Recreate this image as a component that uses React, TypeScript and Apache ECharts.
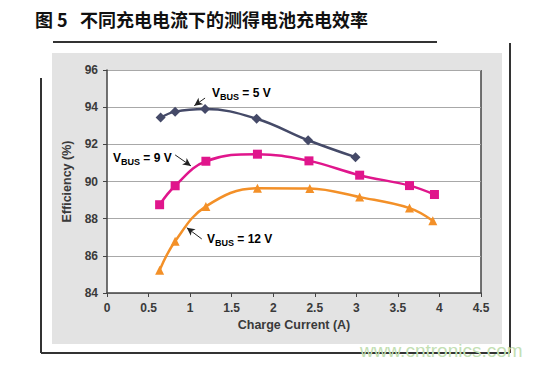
import React, { useEffect, useRef } from "react";
import * as echarts from "echarts";

const title = "图 5   不同充电电流下的测得电池充电效率";
const xTicks = ["0", "0.5", "1", "1.5", "2", "2.5", "3", "3.5", "4", "4.5"];
const xName = "Charge Current (A)";
const yName = "Efficiency (%)";

const v5X = [0.645, 0.82, 1.18, 1.8, 2.42, 2.99];
const v5Y = [93.44, 93.76, 93.9, 93.38, 92.22, 91.31];

const v9X = [0.633, 0.82, 1.19, 1.81, 2.43, 3.04, 3.64, 3.94];
const v9Y = [88.75, 89.77, 91.09, 91.47, 91.11, 90.34, 89.78, 89.3];

const v12X = [0.633, 0.82, 1.19, 1.81, 2.44, 3.04, 3.64, 3.92];
const v12Y = [85.22, 86.79, 88.66, 89.64, 89.62, 89.16, 88.57, 87.89];

const arrow5 = [[1.18, 94.49], [1.05, 94.08]];
const arrow9 = [[0.82, 91.43], [1.01, 90.84]];
const arrow12 = [[1.14, 86.91], [0.96, 87.51]];

const zip = (xs: number[], ys: number[]) => xs.map((x, i) => [x, ys[i]]);

const diamond = "path://M0,-1 L1,0 L0,1 L-1,0 Z";

export default function App() {
  const ref = useRef<HTMLDivElement>(null);
  useEffect(() => {
    document.body.style.margin = "0";
    const chart = echarts.init(ref.current!, null, { renderer: "svg" });
    const axisText = { color: "#3a3a3a", fontFamily: "Liberation Sans, Arial", fontWeight: "bold" as const, fontSize: 12 };
    const rich = {
      b: { fontFamily: "Liberation Sans, Arial", fontWeight: "bold", fontSize: 12, color: "#2a2a2a" },
      s: { fontFamily: "Liberation Sans, Arial", fontWeight: "bold", fontSize: 9, color: "#2a2a2a", padding: [7, 0, 0, 0] },
    };
    const arrowLine = (c: number[][]) => ({
      silent: true,
      symbol: ["none", "arrow"],
      symbolSize: [6, 8],
      label: { show: false },
      lineStyle: { color: "#222", width: 1, type: "solid" },
      data: [[{ coord: c[0] }, { coord: c[1] }]],
    });
    const panel = "#e3e3e3";
    const option: any = {
      animation: false,
      backgroundColor: "#ffffff",
      grid: { left: 107, right: 63, top: 70, bottom: 72, show: true, backgroundColor: "#ffffff", borderWidth: 0, z: 0 },
      xAxis: {
        type: "value",
        min: 0,
        max: 4.5,
        interval: 0.5,
        name: xName,
        nameLocation: "middle",
        nameGap: 25,
        nameTextStyle: { ...axisText, fontSize: 12.5 },
        axisLine: { show: true, lineStyle: { color: "#444", width: 1.5 } },
        axisTick: { show: true, length: 4, lineStyle: { color: "#444" } },
        axisLabel: { ...axisText, margin: 9, formatter: (v: number) => xTicks[Math.round(v / 0.5)] },
        splitLine: { show: false },
      },
      yAxis: {
        type: "value",
        min: 84,
        max: 96,
        interval: 2,
        name: yName,
        nameLocation: "middle",
        nameGap: 33,
        nameTextStyle: { ...axisText, fontSize: 12.5 },
        axisLine: { show: true, lineStyle: { color: "#444", width: 1.5 } },
        axisTick: { show: true, length: 4, lineStyle: { color: "#444" } },
        axisLabel: { ...axisText, margin: 9 },
        splitLine: { show: true, lineStyle: { color: "#a8a8a8", width: 1 } },
      },
      series: [
        {
          type: "line",
          name: "VBUS = 5 V",
          data: zip(v5X, v5Y),
          smooth: 0.4,
          symbol: diamond,
          symbolSize: 10,
          lineStyle: { color: "#454a68", width: 2.5 },
          itemStyle: { color: "#454a68" },
          markLine: arrowLine(arrow5),
        },
        {
          type: "line",
          name: "VBUS = 9 V",
          data: zip(v9X, v9Y),
          smooth: 0.4,
          symbol: "rect",
          symbolSize: 9,
          lineStyle: { color: "#e0168c", width: 2.5 },
          itemStyle: { color: "#e0168c" },
          markLine: arrowLine(arrow9),
        },
        {
          type: "line",
          name: "VBUS = 12 V",
          data: zip(v12X, v12Y),
          smooth: 0.4,
          symbol: "triangle",
          symbolSize: 9,
          lineStyle: { color: "#f39028", width: 2.5 },
          itemStyle: { color: "#f39028" },
          markLine: arrowLine(arrow12),
        },
      ],
      graphic: {
        elements: [
          { type: "rect", z: -10, silent: true, shape: { x: 52, y: 53, width: 55, height: 291 }, style: { fill: panel } },
          { type: "rect", z: -10, silent: true, shape: { x: 481, y: 53, width: 21, height: 291 }, style: { fill: panel } },
          { type: "rect", z: -10, silent: true, shape: { x: 107, y: 53, width: 374, height: 17 }, style: { fill: panel } },
          { type: "rect", z: -10, silent: true, shape: { x: 107, y: 293, width: 374, height: 51 }, style: { fill: panel } },
          { type: "line", silent: true, shape: { x1: 53, y1: 42, x2: 437, y2: 42 }, style: { stroke: "#333", lineWidth: 2 } },
          { type: "line", silent: true, shape: { x1: 510, y1: 43, x2: 510, y2: 353 }, style: { stroke: "#333", lineWidth: 2 } },
          { type: "line", silent: true, shape: { x1: 41, y1: 78, x2: 41, y2: 353 }, style: { stroke: "#333", lineWidth: 2 } },
          { type: "line", silent: true, shape: { x1: 41, y1: 353, x2: 510, y2: 353 }, style: { stroke: "#333", lineWidth: 2 } },
          { type: "line", silent: true, shape: { x1: 481, y1: 70, x2: 481, y2: 293 }, style: { stroke: "#444", lineWidth: 1.5 } },
          {
            type: "text",
            left: 35,
            top: 10,
            style: { text: title, font: "bold 18px 'Noto Sans CJK SC'", fill: "#111" },
          },
          { type: "text", x: 212, y: 93, style: { text: "{b|V}{s|BUS}{b| = 5 V}", rich, verticalAlign: "middle" } },
          { type: "text", x: 113, y: 158, style: { text: "{b|V}{s|BUS}{b| = 9 V}", rich, verticalAlign: "middle" } },
          { type: "text", x: 207, y: 239, style: { text: "{b|V}{s|BUS}{b| = 12 V}", rich, verticalAlign: "middle" } },
          {
            type: "text",
            x: 360,
            y: 350,
            z: 100,
            style: { text: "www.cntronics.com", font: "19px 'Liberation Sans', Arial", fill: "#c3e0b3", verticalAlign: "middle" },
          },
        ],
      },
    };
    chart.setOption(option);
    return () => chart.dispose();
  }, []);
  return <div ref={ref} style={{ width: 544, height: 365 }} />;
}
